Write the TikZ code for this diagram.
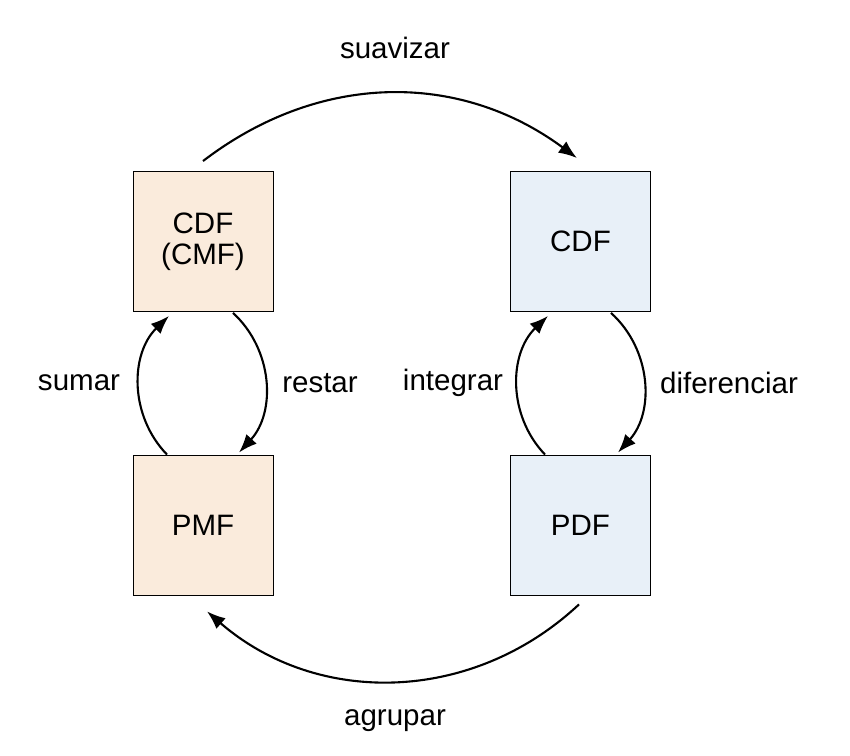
\documentclass[tikz,border=0pt]{standalone}
\usepackage{fontspec}
\setmainfont{Liberation Sans}
\usetikzlibrary{arrows.meta}
\definecolor{durazno}{HTML}{FAEBDC}
\definecolor{celeste}{HTML}{E8F0F8}

\begin{document}
\begin{tikzpicture}[x=0.02cm, y=0.02cm,
    every node/.style={font=\fontsize{16.8}{17.6}\selectfont},
    caja/.style={draw, line width=0.5pt, minimum size=2.8cm, inner sep=0pt, align=center},
    flecha/.style={line width=1.2pt, -{Latex[length=10.5pt, width=8pt]}}]
  \useasboundingbox (0,0) rectangle (850,756);
  % cajas
  \node[caja, fill=durazno] (cmf) at (203,514.5) {CDF\\(CMF)};
  \node[caja, fill=durazno] (pmf) at (203,231) {PMF};
  \node[caja, fill=celeste] (cdf) at (580.5,514.5) {CDF};
  \node[caja, fill=celeste] (pdf) at (580.5,231) {PDF};
  % flechas grandes
  \draw[flecha] ([yshift=0.2cm]cmf.north) to[bend left=37] ([xshift=-0.07cm, yshift=0.26cm]cdf.north);
  \draw[flecha] ([xshift=-0.03cm, yshift=-0.18cm]pdf.south) to[bend left=42] ([xshift=0.08cm, yshift=-0.32cm]pmf.south);
  % flechas laterales
  \draw[flecha] ([xshift=-0.72cm]pmf.north) to[bend left=45] ([xshift=-0.68cm, yshift=-0.08cm]cmf.south);
  \draw[flecha] ([xshift=0.6cm, yshift=-0.02cm]cmf.south) to[bend left=45] ([xshift=0.72cm, yshift=0.04cm]pmf.north);
  \draw[flecha] ([xshift=-0.71cm]pdf.north) to[bend left=45] ([xshift=-0.65cm, yshift=-0.08cm]cdf.south);
  \draw[flecha] ([xshift=0.61cm, yshift=-0.02cm]cdf.south) to[bend left=45] ([xshift=0.75cm, yshift=0.04cm]pdf.north);
  % etiquetas
  \node (suavizar) at (395,708) {suavizar};
  \node (agrupar) at (395,35) {agrupar};
  \node (sumar) at (79,373) {sumar};
  \node (restar) at (320,373) {restar};
  \node (integrar) at (453,373) {integrar};
  \node (diferenciar) at (729,373) {diferenciar};
\end{tikzpicture}
\end{document}
